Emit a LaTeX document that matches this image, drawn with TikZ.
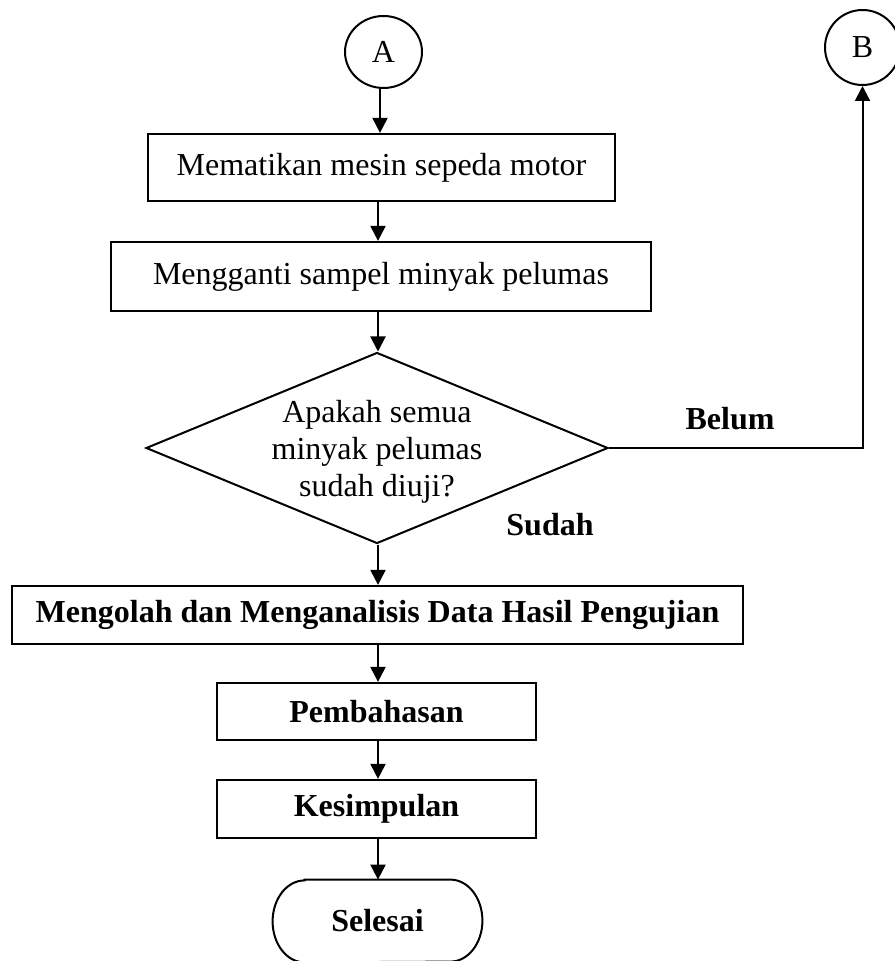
\documentclass[tikz,border=0pt]{standalone}
\usepackage{fontspec}
\setmainfont{Liberation Serif}
\usetikzlibrary{shapes.geometric,arrows.meta,calc}

\tikzset{
  txt/.style={font=\fontsize{16pt}{18.5pt}\selectfont},
  boldtxt/.style={font=\fontsize{16pt}{18.5pt}\selectfont\bfseries},
  procbox/.style={draw, line width=1.1pt, rectangle, inner sep=0pt, txt},
  conn/.style={draw, line width=1pt, ellipse, inner sep=0pt, txt},
  flow/.style={line width=1pt, -{Triangle[length=7.5pt,width=7.5pt]}},
  plain/.style={line width=1pt},
}

\begin{document}
\begin{tikzpicture}[x=0.5pt, y=-0.5pt]
  \useasboundingbox (0,0) rectangle (894,961);

  % vertical flow column
  \coordinate (col) at (378,0);

  % connectors
  \node[conn, minimum width=38.5pt, minimum height=36pt] (A) at (383.5,52) {A};
  \node[conn, minimum width=37.5pt, minimum height=37.5pt] (B) at (862.5,47.5) {B};

  % process steps
  \node[procbox, minimum width=233.5pt, minimum height=33.5pt] (b1) at (381.5,167.5) {Mematikan mesin sepeda motor};
  \node[procbox, minimum width=270pt, minimum height=34.5pt] (b2) at (381,276.5) {Mengganti sampel minyak pelumas};

  % decision
  \node[draw, line width=1pt, diamond, inner sep=0pt, minimum width=231pt, minimum height=95.5pt] (d) at (377,448) {};
  \node[txt, align=center] (dq) at (377,452) {Apakah semua\\minyak pelumas\\sudah diuji?};

  \node[procbox, boldtxt, minimum width=365.5pt, minimum height=29pt] (b3) at (377.5,615) {Mengolah dan Menganalisis Data Hasil Pengujian};
  \node[procbox, boldtxt, minimum width=159.5pt, minimum height=28.5pt] (b4) at (376.5,711.5) {Pembahasan};
  \node[procbox, boldtxt, minimum width=159.5pt, minimum height=29pt] (b5) at (376.5,809) {Kesimpulan};

  % terminator
  \node[boldtxt, inner sep=0pt, minimum width=104.5pt, minimum height=41pt] (end) at (377.5,921) {Selesai};
  \draw[plain] ($(end.north west)+(32,0)$) -- ($(end.north east)+(-32,0)$)
    arc[start angle=90, end angle=-90, x radius=16pt, y radius=20.5pt]
    -- ($(end.south west)+(32,0)$)
    arc[start angle=270, end angle=90, x radius=16pt, y radius=20.5pt] -- cycle;

  % branch labels
  \node[boldtxt] (belum) at (730,419) {Belum};
  \node[boldtxt] (sudah) at (550,525) {Sudah};

  % arrows
  \draw[flow] (A.south -| 380,0) -- (b1.north -| 380,0);
  \draw[flow] (b1.south -| col) -- (b2.north -| col);
  \draw[flow] (b2.south -| col) -- (d.north -| col);
  \draw[flow] (d.south -| col) -- (b3.north -| col);
  \draw[flow] (b3.south -| col) -- (b4.north -| col);
  \draw[flow] (b4.south -| col) -- (b5.north -| col);
  \draw[flow] (b5.south -| col) -- (end.north -| col);
  \draw[flow] (d.east) -| (B.south);
\end{tikzpicture}
\end{document}
